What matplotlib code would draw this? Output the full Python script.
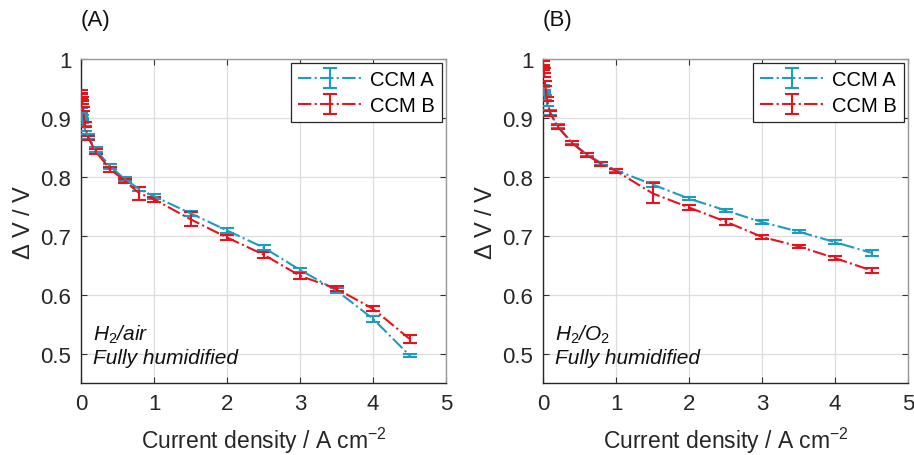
import matplotlib
matplotlib.use("Agg")
import matplotlib.pyplot as plt

plt.rcParams['font.family'] = ['Liberation Sans', 'DejaVu Sans']
plt.rcParams['mathtext.fontset'] = 'custom'
plt.rcParams['mathtext.it'] = 'Liberation Sans:italic'
plt.rcParams['mathtext.rm'] = 'Liberation Sans'

current = [0, 0.005, 0.01, 0.02, 0.03, 0.05, 0.1, 0.2, 0.4, 0.6, 0.8, 1.0,
           1.5, 2.0, 2.5, 3.0, 3.5, 4.0, 4.5]

# Panel A: H2/air
a_ccm_a = [0.912, 0.906, 0.901, 0.896, 0.889, 0.882, 0.868, 0.846, 0.818, 0.796,
           0.779, 0.767, 0.738, 0.709, 0.680, 0.642, 0.607, 0.559, 0.497]
a_ccm_a_err = [0.004, 0.004, 0.004, 0.004, 0.004, 0.004, 0.004, 0.004, 0.004, 0.003,
               0.003, 0.004, 0.004, 0.004, 0.005, 0.004, 0.005, 0.005, 0.003]
a_ccm_b = [0.944, 0.938, 0.932, 0.927, 0.915, 0.889, 0.866, 0.843, 0.813, 0.793,
           0.772, 0.762, 0.728, 0.697, 0.668, 0.632, 0.610, 0.576, 0.525]
a_ccm_b_err = [0.004, 0.004, 0.004, 0.004, 0.004, 0.004, 0.004, 0.004, 0.004, 0.004,
               0.011, 0.004, 0.012, 0.005, 0.005, 0.005, 0.004, 0.004, 0.007]

# Panel B: H2/O2
b_ccm_a = [0.952, 0.948, 0.944, 0.940, 0.935, 0.925, 0.909, 0.886, 0.858, 0.838,
           0.823, 0.811, 0.787, 0.763, 0.743, 0.723, 0.707, 0.689, 0.671]
b_ccm_a_err = [0.004, 0.004, 0.004, 0.004, 0.004, 0.004, 0.004, 0.003, 0.003, 0.003,
               0.003, 0.003, 0.004, 0.003, 0.003, 0.003, 0.003, 0.003, 0.005]
b_ccm_b = [0.992, 0.986, 0.980, 0.973, 0.959, 0.932, 0.908, 0.885, 0.857, 0.837,
           0.822, 0.810, 0.772, 0.748, 0.724, 0.698, 0.682, 0.662, 0.641]
b_ccm_b_err = [0.004, 0.004, 0.004, 0.004, 0.004, 0.004, 0.004, 0.003, 0.003, 0.003,
               0.003, 0.003, 0.017, 0.005, 0.005, 0.003, 0.003, 0.003, 0.004]

series_names = ["CCM A", "CCM B"]
panel_labels = ["(A)", "(B)"]
conditions = ["$H_2$/air", "$H_2$/$O_2$"]
xticks = [0, 1, 2, 3, 4, 5]
yticks = [0.5, 0.6, 0.7, 0.8, 0.9, 1.0]
ytick_labels = ["0.5", "0.6", "0.7", "0.8", "0.9", "1"]

cyan = "#1A9DBF"
red = "#E8121C"

fig = plt.figure(figsize=(9.14, 4.56), dpi=100)
axA = fig.add_axes([81/914, 72/456, 365/914, 324/456])
axB = fig.add_axes([543/914, 72/456, 365/914, 324/456])

panels = [
    (axA, a_ccm_a, a_ccm_a_err, a_ccm_b, a_ccm_b_err),
    (axB, b_ccm_a, b_ccm_a_err, b_ccm_b, b_ccm_b_err),
]

for i, (ax, ya, ea, yb, eb) in enumerate(panels):
    ax.errorbar(current, ya, yerr=ea, color=cyan, ls='-.', lw=1.5,
                capsize=5, capthick=1.5, elinewidth=1.5, label=series_names[0], zorder=3)
    ax.errorbar(current, yb, yerr=eb, color=red, ls='-.', lw=1.5,
                capsize=5, capthick=1.5, elinewidth=1.5, label=series_names[1], zorder=3)
    ax.set_xlim(0, 5)
    ax.set_ylim(0.45, 1.0)
    ax.set_xticks(xticks)
    ax.set_yticks(yticks)
    ax.set_yticklabels(ytick_labels)
    ax.grid(True, color='#DDDDDD', lw=0.9)
    ax.set_axisbelow(True)
    ax.tick_params(direction='in', length=4, labelsize=16, color='#333333',
                   labelcolor='#262626', pad=7, top=True, right=True)
    for s in ['left', 'bottom']:
        ax.spines[s].set_color('#262626')
        ax.spines[s].set_linewidth(1.0)
    for s in ['top', 'right']:
        ax.spines[s].set_color('#999999')
        ax.spines[s].set_linewidth(1.0)
    ax.set_xlabel("Current density / A cm$^{-2}$", fontsize=16.5, color='#262626', labelpad=8)
    ax.set_ylabel(r"$\Delta$ V / V", fontsize=17, color='#262626', labelpad=4)
    ax.text(0.0, 1.09, panel_labels[i], transform=ax.transAxes, fontsize=16,
            ha='left', va='bottom', color='#111111')
    ax.text(0.033, 0.153, conditions[i], transform=ax.transAxes, fontsize=15,
            style='italic', ha='left', va='center', color='#111111')
    ax.text(0.033, 0.078, "Fully humidified", transform=ax.transAxes, fontsize=15,
            style='italic', ha='left', va='center', color='#111111')
    leg = ax.legend(loc='upper right', fontsize=14.5, frameon=True, fancybox=False,
                    borderaxespad=0.2, handlelength=3.2, handletextpad=0.4,
                    borderpad=0.35, labelspacing=0.35)
    leg.get_frame().set_edgecolor('#262626')
    leg.get_frame().set_linewidth(0.9)
    leg.get_frame().set_alpha(1.0)

fig.savefig("out.png", dpi=100)
